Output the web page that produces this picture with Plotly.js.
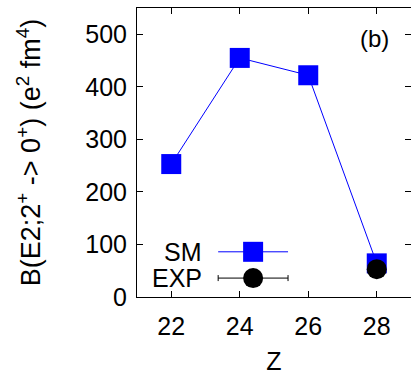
<!DOCTYPE html>
<html><head><meta charset="utf-8">
<script src="https://cdn.plot.ly/plotly-3.0.1.min.js"></script>
<style>html,body{margin:0;padding:0;background:#fff}#c{width:411px;height:375px}</style>
</head><body><div id="c"></div>
<script>
const zSM = [22, 24, 26, 28];
const bSM = [253, 455, 422, 64];
const zEXP = [28];
const bEXP = [53];
const bEXPerr = [4];
const xTicks = [22, 24, 26, 28];
const yTicks = [0, 100, 200, 300, 400, 500];
const legendLabels = ['SM', 'EXP'];

const FONT = 'Liberation Sans, Arial, sans-serif';
const blue = '#0000ff';

// legend key geometry (data units)
const keyX0 = 23.37, keyX1 = 25.41, keyXm = 24.39;
const keyY = [86, 36];

const traces = [
  {x: zSM, y: bSM, mode: 'lines+markers', line: {color: blue, width: 1},
   marker: {symbol: 'square', size: 20, color: blue}, showlegend: false, cliponaxis: false},
  {x: zEXP, y: bEXP, mode: 'markers',
   error_y: {type: 'data', array: bEXPerr, color: '#000', thickness: 1, width: 4},
   marker: {symbol: 'circle', size: 20, color: '#000'}, showlegend: false, cliponaxis: false},
  // legend keys
  {x: [keyX0, keyX1], y: [keyY[0], keyY[0]], mode: 'lines', line: {color: blue, width: 1},
   showlegend: false, hoverinfo: 'skip'},
  {x: [keyXm], y: [keyY[0]], mode: 'markers', marker: {symbol: 'square', size: 20, color: blue},
   showlegend: false, hoverinfo: 'skip'},
  {x: [keyXm], y: [keyY[1]], mode: 'markers', marker: {symbol: 'circle', size: 20, color: '#000'},
   error_x: {type: 'data', array: [keyX1 - keyXm], color: '#000', thickness: 1, width: 3},
   showlegend: false, hoverinfo: 'skip'}
];

const layout = {
  width: 411, height: 375,
  margin: {l: 137, r: 0, t: 8, b: 78},
  paper_bgcolor: '#fff', plot_bgcolor: '#fff',
  font: {family: FONT, size: 25, color: '#000'},
  showlegend: false,
  xaxis: {range: [21, 29], tickvals: xTicks, ticks: 'inside', ticklen: 6, tickwidth: 1,
          tickcolor: '#000', mirror: 'allticks', showline: true, linecolor: '#000', linewidth: 1,
          showgrid: false, zeroline: false, tickfont: {size: 25}, ticklabelstandoff: 7,
          title: {text: 'Z', font: {size: 25}, standoff: 17}},
  yaxis: {range: [0, 550], tickvals: yTicks, ticks: 'inside', ticklen: 6, tickwidth: 1,
          tickcolor: '#000', mirror: 'allticks', showline: true, linecolor: '#000', linewidth: 1,
          showgrid: false, zeroline: false, tickfont: {size: 25}, ticklabelstandoff: 4,
          title: {text: 'B(E2;2<sup>+</sup> -> 0<sup>+</sup>) (e<sup>2</sup> fm<sup>4</sup>)', font: {size: 27}, standoff: 36}},
  annotations: [
    {x: 22.95, y: keyY[0], xref: 'x', yref: 'y', text: legendLabels[0], showarrow: false, xanchor: 'right', font: {size: 25}},
    {x: 22.95, y: keyY[1], xref: 'x', yref: 'y', text: legendLabels[1], showarrow: false, xanchor: 'right', font: {size: 25}},
    {x: (374 - 137) / 274, y: 1 - (38 - 8) / 289, xref: 'paper', yref: 'paper',
     xanchor: 'center', yanchor: 'middle',
     text: '(b)', showarrow: false, font: {size: 24}}
  ]
};

Plotly.newPlot('c', traces, layout, {staticPlot: true});
</script></body></html>
